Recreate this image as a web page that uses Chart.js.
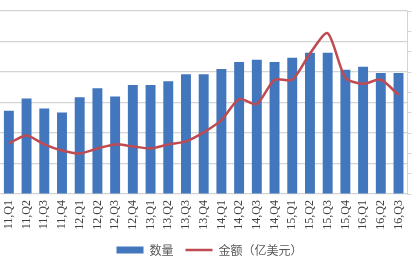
<!DOCTYPE html>
<html>
<head>
<meta charset="utf-8">
<script src="https://cdn.jsdelivr.net/npm/chart.js@4.4.1/dist/chart.umd.min.js"></script>
<style>
  html, body { margin: 0; padding: 0; background: #fff; overflow: hidden; }
  #wrap { position: relative; width: 419px; height: 266px; }
</style>
</head>
<body>
<div id="wrap"><canvas id="chart"></canvas></div>
<script>
const quarters = ['11,Q1', '11,Q2', '11,Q3', '11,Q4', '12,Q1', '12,Q2', '12,Q3', '12,Q4',
  '13,Q1', '13,Q2', '13,Q3', '13,Q4', '14,Q1', '14,Q2', '14,Q3', '14,Q4',
  '15,Q1', '15,Q2', '15,Q3', '15,Q4', '16,Q1', '16,Q2', '16,Q3'];

// 数量 (left axis, 0-600)
const countValues = [273, 313, 280, 267, 317, 347, 320, 357, 357, 370, 393, 393,
  410, 433, 440, 433, 447, 463, 463, 407, 417, 397, 397];

// 金额（亿美元） (right axis, 0-90)
const amountValues = [24.9, 28.8, 24.4, 21.4, 19.9, 22.4, 24.4, 23.4, 22.4, 24.4, 25.9, 30.3,
  36.3, 46.7, 44.3, 56.2, 56.2, 69.1, 79.1, 57.2, 54.2, 56.2, 48.7];

const gridColor = '#d4d4d4';

new Chart(document.getElementById('chart'), {
  data: {
    labels: quarters,
    datasets: [
      {
        type: 'line', label: '金额（亿美元）', data: amountValues, yAxisID: 'y1',
        borderColor: '#bf4a52', backgroundColor: '#bf4a52', borderWidth: 2.5,
        pointRadius: 0, tension: 0.25, pointStyle: 'line', order: 0
      },
      {
        type: 'bar', label: '数量', data: countValues, yAxisID: 'y',
        backgroundColor: '#4276bd', barPercentage: 0.56, categoryPercentage: 1,
        pointStyle: 'rect', order: 1
      }
    ]
  },
  options: {
    responsive: true, maintainAspectRatio: false, animation: false,
    layout: { padding: { top: 11, bottom: 0, left: 0, right: 0 } },
    plugins: {
      tooltip: { enabled: false },
      legend: {
        position: 'bottom', reverse: true,
        labels: {
          usePointStyle: true, pointStyleWidth: 27, boxHeight: 7,
          color: '#595959', font: { family: '"Noto Sans CJK SC", sans-serif', size: 12 }, padding: 12
        }
      }
    },
    scales: {
      x: {
        grid: { display: false, drawTicks: false }, border: { display: false },
        ticks: { color: '#404040', font: { family: 'Liberation Serif, serif', size: 12 },
          minRotation: 90, maxRotation: 90, autoSkip: false, padding: 6 },
        afterFit(scale) { scale.height = 38; }
      },
      y: {
        position: 'left', min: 0, max: 600,
        ticks: { display: false, stepSize: 100 },
        grid: { color: gridColor, drawTicks: false, lineWidth: 1.2 },
        border: { display: false }
      },
      y1: {
        position: 'right', min: 0, max: 90,
        ticks: { display: false, stepSize: 10 },
        grid: { drawOnChartArea: false, tickLength: 4, color: gridColor },
        border: { display: true, color: gridColor }
      }
    }
  }
});
</script>
</body>
</html>
